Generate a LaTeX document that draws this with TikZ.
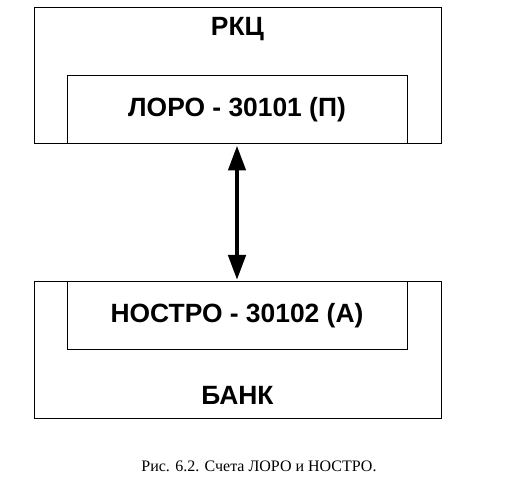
\documentclass[tikz,border=0pt]{standalone}
\usepackage{fontspec}
\setmainfont{Liberation Serif}
\newfontfamily\headfont{Liberation Sans}
\usepackage{tikz}
\usetikzlibrary{calc,positioning,arrows.meta}

\begin{document}
\begin{tikzpicture}[x=1pt,y=1pt,
    outer/.style={draw,line width=1pt,minimum width=407pt,minimum height=136pt,inner sep=0pt},
    acct/.style={draw,line width=1pt,minimum width=340pt,minimum height=68pt,inner sep=0pt,font=\headfont\bfseries\fontsize{26.4}{30}\selectfont},
    ttl/.style={inner sep=0pt,font=\headfont\bfseries\fontsize{26.4}{30}\selectfont}]

  \useasboundingbox (0,0) rectangle (522,-486);

  \node[outer] (rkc) at (237.5,-76) {};
  \node[acct] (loro) at (237,-110) {ЛОРО - 30101 (П)};
  \node[ttl] (rkct) at (237.5,-29) {РКЦ};

  \node[outer] (bank) at (237.5,-350) {};
  \node[acct] (nostro) at (237,-315.5) {НОСТРО - 30102 (А)};
  \node[ttl] (bankt) at (237.5,-395) {БАНК};

  \draw[{Triangle[length=25pt,width=17pt]}-{Triangle[length=25pt,width=17pt]},line width=4.5pt,shorten <=1pt,shorten >=1pt] (loro.south) -- (nostro.north);

  \node[font=\fontsize{16}{19}\selectfont] (cap) at (259,-466) {Рис. 6.2. Счета ЛОРО и НОСТРО.};
\end{tikzpicture}
\end{document}
